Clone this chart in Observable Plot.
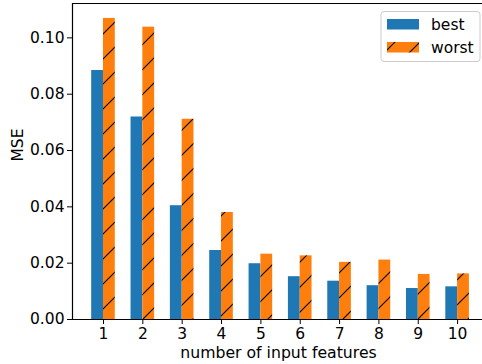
<!DOCTYPE html>
<html>
<head>
<meta charset="utf-8">
<script src="https://cdn.jsdelivr.net/npm/d3@7"></script>
<script src="https://cdn.jsdelivr.net/npm/@observablehq/plot@0.6"></script>
<style>
  html, body { margin: 0; padding: 0; background: white; }
  svg { display: block; }
</style>
</head>
<body>
<div id="chart"></div>
<script>
// ---- data ----
const features = [1, 2, 3, 4, 5, 6, 7, 8, 9, 10];
const best  = [0.0884, 0.0719, 0.0404, 0.0245, 0.0198, 0.0152, 0.0136, 0.0120, 0.0110, 0.0116];
const worst = [0.1069, 0.1038, 0.0711, 0.0380, 0.0232, 0.0226, 0.0203, 0.0211, 0.0160, 0.0162];
const seriesNames = ["best", "worst"];
const yTicks = [0.00, 0.02, 0.04, 0.06, 0.08, 0.10];
const xTicks = features;
const xLabel = "number of input features";
const yLabel = "MSE";

const rows = features.map((n, i) => ({n, best: best[i], worst: worst[i]}));
const barW = 0.3;
const xDomain = [0.2125, 10.9375];
const yDomain = [0, 0.1122];
const FONT = "DejaVu Sans";

const svg = Plot.plot({
  width: 482,
  height: 364,
  marginLeft: 72,
  marginRight: 0,
  marginTop: 3,
  marginBottom: 45,
  style: {fontFamily: FONT, fontSize: "15px", background: "white", color: "black"},
  x: {domain: xDomain, range: [72, 494]},
  y: {domain: yDomain},
  marks: [
    Plot.rect(rows, {x1: d => d.n - barW, x2: d => d.n, y1: 0, y2: "best", fill: "#1f77b4"}),
    Plot.rect(rows, {x1: d => d.n, x2: d => d.n + barW, y1: 0, y2: "worst", fill: "url(#hatchOrange)"}),
    Plot.ruleY([yDomain[0]], {stroke: "black", strokeWidth: 1.2}),
    Plot.ruleY([yDomain[1]], {stroke: "black", strokeWidth: 1.2}),
    Plot.ruleX([xDomain[0]], {stroke: "black", strokeWidth: 1.2}),
    Plot.axisX({ticks: xTicks, tickFormat: d => String(d), tickSize: 5, tickPadding: 3, label: null, fontSize: 15.5}),
    Plot.axisY({ticks: yTicks, tickFormat: d3.format(".2f"), tickSize: 5, tickPadding: 3, label: null, fontSize: 15.5}),
    Plot.text([xLabel], {frameAnchor: "bottom", dy: 38, dx: 1, fontSize: 15.7}),
    Plot.text([yLabel], {frameAnchor: "left", dx: -54, rotate: -90, fontSize: 15.5})
  ]
});

// hatch pattern definition
const s = d3.select(svg);
const defs = s.insert("defs", ":first-child");
const pat = defs.append("pattern")
  .attr("id", "hatchOrange")
  .attr("patternUnits", "userSpaceOnUse")
  .attr("width", 25).attr("height", 25);
pat.append("rect").attr("width", 25).attr("height", 25).attr("fill", "#ff7f0e");
pat.append("path")
  .attr("d", "M-2,14 L14,-2 M10,27 L27,10")
  .attr("stroke", "black").attr("stroke-width", 1.1).attr("fill", "none");

// legend
const lg = s.append("g").attr("font-family", FONT).attr("font-size", 15.5).attr("text-anchor", "start");
lg.append("rect").attr("x", 381).attr("y", 11.5).attr("width", 99).attr("height", 50)
  .attr("rx", 3).attr("fill", "white").attr("fill-opacity", 0.8)
  .attr("stroke", "#cccccc").attr("stroke-width", 1);
const fills = ["#1f77b4", "url(#hatchOrange)"];
seriesNames.forEach((name, i) => {
  const y0 = 19 + i * 23;
  lg.append("rect").attr("x", 387).attr("y", y0).attr("width", 32).attr("height", 10.5).attr("fill", fills[i]);
  lg.append("text").attr("x", 431).attr("y", y0 + 11).attr("text-anchor", "start").text(name);
});

document.getElementById("chart").appendChild(svg);
</script>
</body>
</html>
